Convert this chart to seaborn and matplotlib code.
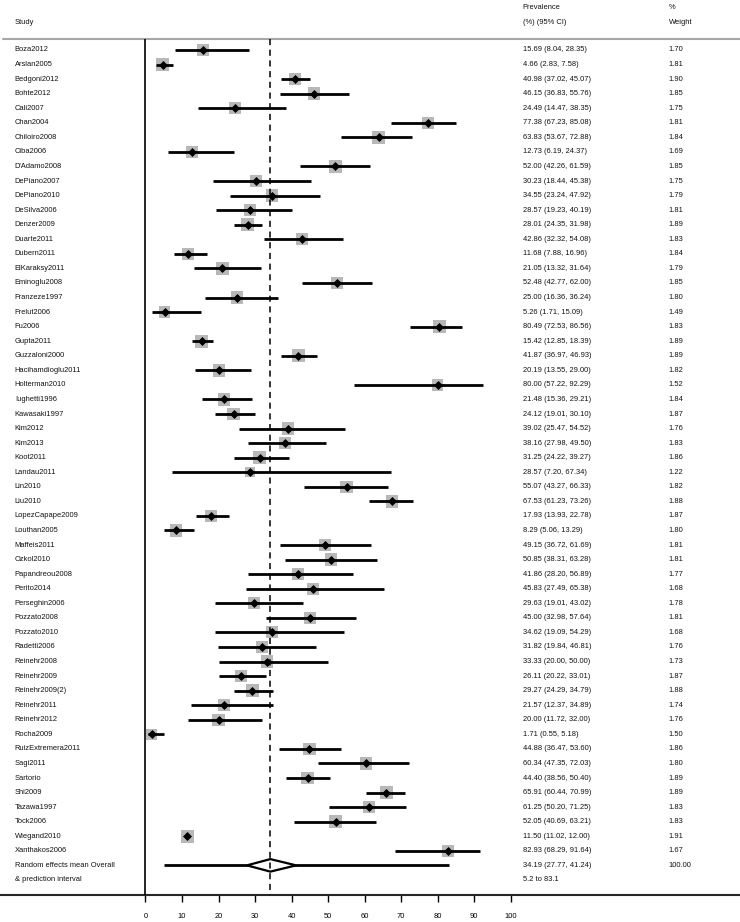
import numpy as np
import pandas as pd
import seaborn as sns
import matplotlib.pyplot as plt

# study level estimates, read off the table on the right of the forest plot
studies = ["Boza2012", "Arslan2005", "Bedgoni2012", "Bohte2012", "Cali2007", "Chan2004",
           "Chiloiro2008", "Ciba2006", "D'Adamo2008", "DePiano2007", "DePiano2010", "DeSilva2006",
           "Denzer2009", "Duarte2011", "Dubern2011", "ElKaraksy2011", "Eminoglu2008", "Franzeze1997",
           "Frelut2006", "Fu2006", "Gupta2011", "Guzzaloni2000", "Hacihamdioglu2011", "Holterman2010",
           "Iughetti1996", "Kawasaki1997", "Kim2012", "Kim2013", "Koot2011", "Landau2011",
           "Lin2010", "Liu2010", "LopezCapape2009", "Louthan2005", "Maffeis2011", "Ozkol2010",
           "Papandreou2008", "Perito2014", "Perseghin2006", "Pozzato2008", "Pozzato2010", "Radetti2006",
           "Reinehr2008", "Reinehr2009", "Reinehr2009(2)", "Reinehr2011", "Reinehr2012", "Rocha2009",
           "RuizExtremera2011", "Sagi2011", "Sartorio", "Shi2009", "Tazawa1997", "Tock2006",
           "Wiegand2010", "Xanthakos2006"]
prev = [15.69, 4.66, 40.98, 46.15, 24.49, 77.38, 63.83, 12.73, 52.00, 30.23, 34.55, 28.57,
        28.01, 42.86, 11.68, 21.05, 52.48, 25.00, 5.26, 80.49, 15.42, 41.87, 20.19, 80.00,
        21.48, 24.12, 39.02, 38.16, 31.25, 28.57, 55.07, 67.53, 17.93, 8.29, 49.15, 50.85,
        41.86, 45.83, 29.63, 45.00, 34.62, 31.82, 33.33, 26.11, 29.27, 21.57, 20.00, 1.71,
        44.88, 60.34, 44.40, 65.91, 61.25, 52.05, 11.50, 82.93]
ci_low = [8.04, 2.83, 37.02, 36.83, 14.47, 67.23, 53.67, 6.19, 42.26, 18.44, 23.24, 19.23,
          24.35, 32.32, 7.88, 13.32, 42.77, 16.36, 1.71, 72.53, 12.85, 36.97, 13.55, 57.22,
          15.36, 19.01, 25.47, 27.98, 24.22, 7.20, 43.27, 61.23, 13.93, 5.06, 36.72, 38.31,
          28.20, 27.49, 19.01, 32.98, 19.09, 19.84, 20.00, 20.22, 24.29, 12.37, 11.72, 0.55,
          36.47, 47.35, 38.56, 60.44, 50.20, 40.69, 11.02, 68.29]
ci_high = [28.35, 7.58, 45.07, 55.76, 38.35, 85.08, 72.88, 24.37, 61.59, 45.38, 47.92, 40.19,
           31.98, 54.08, 16.96, 31.64, 62.00, 36.24, 15.09, 86.56, 18.39, 46.93, 29.00, 92.29,
           29.21, 30.10, 54.52, 49.50, 39.27, 67.34, 66.33, 73.26, 22.78, 13.29, 61.69, 63.28,
           56.89, 65.38, 43.02, 57.64, 54.29, 46.81, 50.00, 33.01, 34.79, 34.89, 32.00, 5.18,
           53.60, 72.03, 50.40, 70.99, 71.25, 63.21, 12.00, 91.64]
weight = [1.70, 1.81, 1.90, 1.85, 1.75, 1.81, 1.84, 1.69, 1.85, 1.75, 1.79, 1.81,
          1.89, 1.83, 1.84, 1.79, 1.85, 1.80, 1.49, 1.83, 1.89, 1.89, 1.82, 1.52,
          1.84, 1.87, 1.76, 1.83, 1.86, 1.22, 1.82, 1.88, 1.87, 1.80, 1.81, 1.81,
          1.77, 1.68, 1.78, 1.81, 1.68, 1.76, 1.73, 1.87, 1.88, 1.74, 1.76, 1.50,
          1.86, 1.80, 1.89, 1.89, 1.83, 1.83, 1.91, 1.67]

# random effects summary
pooled = 34.19
pooled_low = 27.77
pooled_high = 41.24
pred_low = 5.2
pred_high = 83.1
xticks = list(range(0, 101, 10))

sns.set_style("white")
plt.rcParams['font.family'] = ['Liberation Sans', 'DejaVu Sans']
fs = 5.4
txt = '#111111'

df = pd.DataFrame({'study': studies, 'prev': prev, 'lo': ci_low, 'hi': ci_high, 'weight': weight})
df['row'] = np.arange(len(df))
n = len(df)

fig = plt.figure(figsize=(7.4, 9.22), dpi=100)
ax = fig.add_axes([0, 0, 1, 1])

# weight squares, CI bars, point diamonds
sns.scatterplot(data=df, x='prev', y='row', size='weight', sizes=(0, 87.6), size_norm=(0, 2),
                marker='s', color='#b8b8b8', linewidth=0, legend=False, ax=ax, zorder=2)
ax.hlines(df['row'], df['lo'], df['hi'], colors='black', lw=2, zorder=3)
sns.scatterplot(data=df, x='prev', y='row', marker='D', s=21, color='black',
                linewidth=0, legend=False, ax=ax, zorder=4)

# overall estimate with prediction interval
ax.hlines(n, pred_low, pred_high, colors='black', lw=2, zorder=3)
ax.fill([pooled_low, pooled, pooled_high, pooled], [n, n - 0.43, n, n + 0.43],
        facecolor='white', edgecolor='black', lw=1.6, zorder=4)

top = -0.755
bottom = n + 2.03
ax.axhline(top, xmin=3 / 740, color='#a6a6a6', lw=1.5)
ax.vlines(0, top, bottom, colors='black', lw=1.2, zorder=5)
ax.vlines(pooled, top, bottom, colors='black', lw=1.1, linestyles=(0, (4, 3)), zorder=5)

# text columns
x_study, x_prev, x_wt = -35.8, 103.3, 143.3
ax.text(x_study, -1.92, "Study", fontsize=fs, color=txt, va='center')
ax.text(x_prev, -2.95, "Prevalence", fontsize=fs, color=txt, va='center')
ax.text(x_prev, -1.92, "(%) (95% CI)", fontsize=fs, color=txt, va='center')
ax.text(x_wt, -2.95, "%", fontsize=fs, color=txt, va='center')
ax.text(x_wt, -1.92, "Weight", fontsize=fs, color=txt, va='center')

for _, r in df.iterrows():
    ax.text(x_study, r['row'], r['study'], fontsize=fs, color=txt, va='center')
    ax.text(x_prev, r['row'], f"{r['prev']:.2f} ({r['lo']:.2f}, {r['hi']:.2f})",
            fontsize=fs, color=txt, va='center')
    ax.text(x_wt, r['row'], f"{r['weight']:.2f}", fontsize=fs, color=txt, va='center')

ax.text(x_study, n, "Random effects mean Overall", fontsize=fs, color=txt, va='center')
ax.text(x_study, n + 1, "& prediction interval", fontsize=fs, color=txt, va='center')
ax.text(x_prev, n, f"{pooled:.2f} ({pooled_low:.2f}, {pooled_high:.2f})", fontsize=fs, color=txt, va='center')
ax.text(x_wt, n, "100.00", fontsize=fs, color=txt, va='center')
ax.text(x_prev, n + 1, f"{pred_low} to {pred_high}", fontsize=fs, color=txt, va='center')

# axes: only the bottom line with ticks 0..100
ax.set_xlim(-39.84, 162.79)
ax.set_ylim(n + 3.89, -3.434)
for side in ['top', 'left', 'right']:
    ax.spines[side].set_visible(False)
ax.spines['bottom'].set_position(('data', bottom))
ax.spines['bottom'].set_linewidth(1.5)
ax.set_xticks(xticks)
ax.set_yticks([])
ax.tick_params(axis='x', direction='out', length=5, width=1, labelsize=fs, pad=8,
               colors='black', bottom=True)
ax.set_xlabel('')
ax.set_ylabel('')

fig.savefig("out.png", dpi=100)
